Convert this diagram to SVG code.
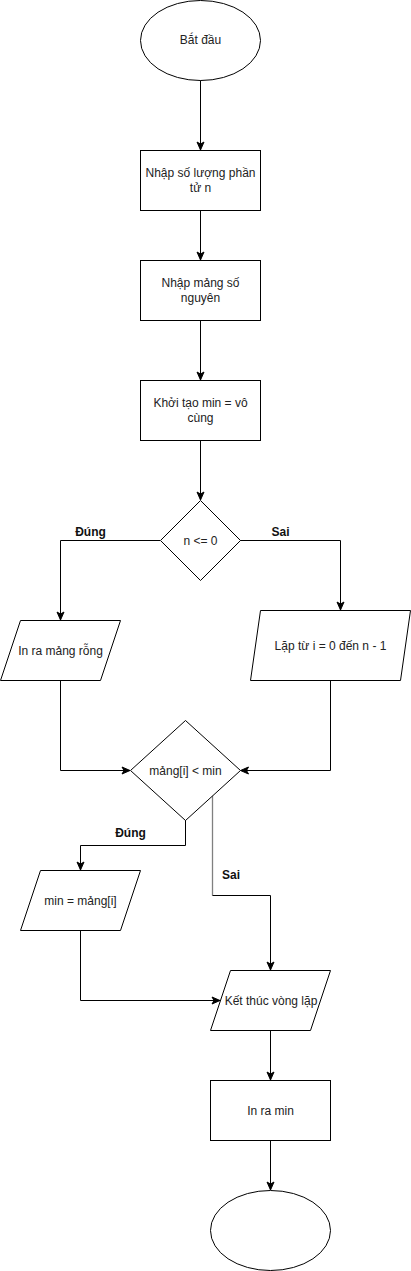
<svg xmlns="http://www.w3.org/2000/svg" width="411" height="1271" viewBox="0 0 411 1271">
<style>
.s{fill:#fff;stroke:#000;stroke-width:1}
.t{font-family:"Liberation Sans",Arial,sans-serif;font-size:12px;fill:#222;text-anchor:middle}
.l{font-family:"Liberation Sans",Arial,sans-serif;font-size:12px;font-weight:bold;fill:#111;text-anchor:middle}
.c{fill:none;stroke:#000;stroke-width:1}
.g{fill:none;stroke:#808080;stroke-width:1.3}
</style>
<defs>
<marker id="a" markerUnits="userSpaceOnUse" markerWidth="10" markerHeight="10" viewBox="0 0 10 10" refX="9" refY="5" orient="auto">
<path d="M1,1.5 L9,5 L1,8.5 L3,5 Z" fill="#000" stroke="#000" stroke-width="1"/>
</marker>
</defs>
<rect width="411" height="1271" fill="#fff"/>
<g id="connectors">
<path class="c" d="M200.5,80 V150" marker-end="url(#a)"/>
<path class="c" d="M200.5,210 V260" marker-end="url(#a)"/>
<path class="c" d="M200.5,320 V380" marker-end="url(#a)"/>
<path class="c" d="M200.5,440 V500" marker-end="url(#a)"/>
<path class="c" d="M160,540.5 H60.5 V620" marker-end="url(#a)"/>
<path class="c" d="M240,540.5 H340.5 V610" marker-end="url(#a)"/>
<path class="c" d="M60.5,680 V770.5 H130" marker-end="url(#a)"/>
<path class="c" d="M330.5,680 V770.5 H240.5" marker-end="url(#a)"/>
<path class="c" d="M185.5,820 V845.5 H80.5 V870" marker-end="url(#a)"/>
<path class="g" d="M212.5,795 V895.5"/>
<path class="c" d="M212.5,895.5 H270.5 V970" marker-end="url(#a)"/>
<path class="c" d="M80.5,930 V1000.5 H220" marker-end="url(#a)"/>
<path class="c" d="M270.5,1030 V1080" marker-end="url(#a)"/>
<path class="c" d="M270.5,1140 V1190" marker-end="url(#a)"/>
<text class="l" x="90.5" y="536">Đúng</text>
<text class="l" x="280.5" y="536">Sai</text>
<text class="l" x="130.5" y="837">Đúng</text>
<text class="l" x="231" y="879">Sai</text>
</g>
<g id="start">
<ellipse class="s" cx="200.5" cy="40.5" rx="60" ry="40"/>
<text class="t" x="200.5" y="44">Bắt đầu</text>
</g>
<g id="input-n">
<rect class="s" x="140.5" y="150.5" width="120" height="60"/>
<text class="t" x="200.5" y="177">Nhập số lượng phần</text>
<text class="t" x="200.5" y="192">tử n</text>
</g>
<g id="input-array">
<rect class="s" x="140.5" y="260.5" width="120" height="60"/>
<text class="t" x="200.5" y="287">Nhập mảng số</text>
<text class="t" x="200.5" y="302">nguyên</text>
</g>
<g id="init-min">
<rect class="s" x="140.5" y="380.5" width="120" height="60"/>
<text class="t" x="200.5" y="407">Khởi tạo min = vô</text>
<text class="t" x="200.5" y="422">cùng</text>
</g>
<g id="cond-n">
<polygon class="s" points="200.5,500.5 240.5,540.5 200.5,580.5 160.5,540.5"/>
<text class="t" x="200.5" y="544.5">n &lt;= 0</text>
</g>
<g id="print-empty">
<polygon class="s" points="20.5,620.5 120.5,620.5 100.5,680.5 0.5,680.5"/>
<text class="t" x="60.5" y="654.5">In ra mảng rỗng</text>
</g>
<g id="loop">
<polygon class="s" points="260.5,610.5 410.5,610.5 400.5,680.5 250.5,680.5"/>
<text class="t" x="330.5" y="649.5">Lặp từ i = 0 đến n - 1</text>
</g>
<g id="cond-min">
<polygon class="s" points="185.5,720.5 240.5,770.5 185.5,820.5 130.5,770.5"/>
<text class="t" x="185.5" y="774.5">mảng[i] &lt; min</text>
</g>
<g id="assign-min">
<polygon class="s" points="40.5,870.5 140.5,870.5 120.5,930.5 20.5,930.5"/>
<text class="t" x="80.5" y="904.5">min = mảng[i]</text>
</g>
<g id="end-loop">
<polygon class="s" points="230.5,970.5 330.5,970.5 310.5,1030.5 210.5,1030.5"/>
<text class="t" x="271" y="1004.5">Kết thúc vòng lặp</text>
</g>
<g id="print-min">
<rect class="s" x="210.5" y="1080.5" width="120" height="60"/>
<text class="t" x="270.5" y="1114.5">In ra min</text>
</g>
<g id="end">
<ellipse class="s" cx="270.5" cy="1230.5" rx="60" ry="40"/>
</g>
</svg>
